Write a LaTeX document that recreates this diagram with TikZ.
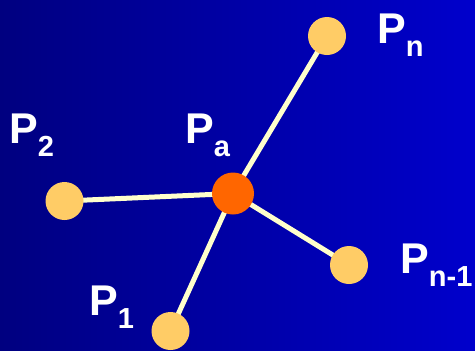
\documentclass[tikz,border=0pt]{standalone}
\usepackage{fontspec}
\setmainfont{Liberation Sans}
\definecolor{bgleft}{RGB}{0,0,128}
\definecolor{bgright}{RGB}{0,0,204}
\definecolor{ptfill}{RGB}{255,204,102}
\definecolor{pafill}{RGB}{255,102,0}
\definecolor{linecol}{RGB}{255,255,204}
\newcommand\subtxt[1]{\raisebox{-13bp}{\fontsize{29bp}{29bp}\selectfont #1}}
\pgfdeclarelayer{back}
\pgfdeclarelayer{mid}
\pgfsetlayers{back,mid,main}
\tikzset{
  pt/.style={circle, fill=ptfill, inner sep=0pt, minimum size=38bp},
  ptA/.style={circle, fill=pafill, inner sep=0pt, minimum size=42bp},
  lbl/.style={anchor=base west, inner sep=0pt, text=white, font=\fontsize{43bp}{43bp}\selectfont\bfseries},
  link/.style={draw=linecol, line width=5bp}
}
\begin{document}
\begin{tikzpicture}[x=1bp, y=-1bp]
\begin{pgfonlayer}{back}
\shade[left color=bgleft, right color=bgright] (0,0) rectangle (475,350);
\end{pgfonlayer}
\useasboundingbox (0,0) rectangle (475,350);
\node[ptA] (pa) at (233,193.5) {};
\node[pt] (pn) at (327,36) {};
\node[pt] (p2) at (64.5,201) {};
\node[pt] (pn1) at (349,265) {};
\node[pt] (p1) at (170.5,331) {};
\begin{pgfonlayer}{mid}
\draw[link] (pa.center) -- (pn.center);
\draw[link] (pa.center) -- (p2.center);
\draw[link] (pa.center) -- (pn1.center);
\draw[link] (pa.center) -- (p1.center);
\end{pgfonlayer}
\node[lbl] (lpn) at (377,43) {P\subtxt{n}};
\node[lbl] (lp2) at (9,143) {P\subtxt{2}};
\node[lbl] (lpa) at (185,143) {P\subtxt{a}};
\node[lbl] (lpn1) at (400,273) {P\subtxt{n-1}};
\node[lbl] (lp1) at (89,315) {P\subtxt{1}};
\end{tikzpicture}
\end{document}
